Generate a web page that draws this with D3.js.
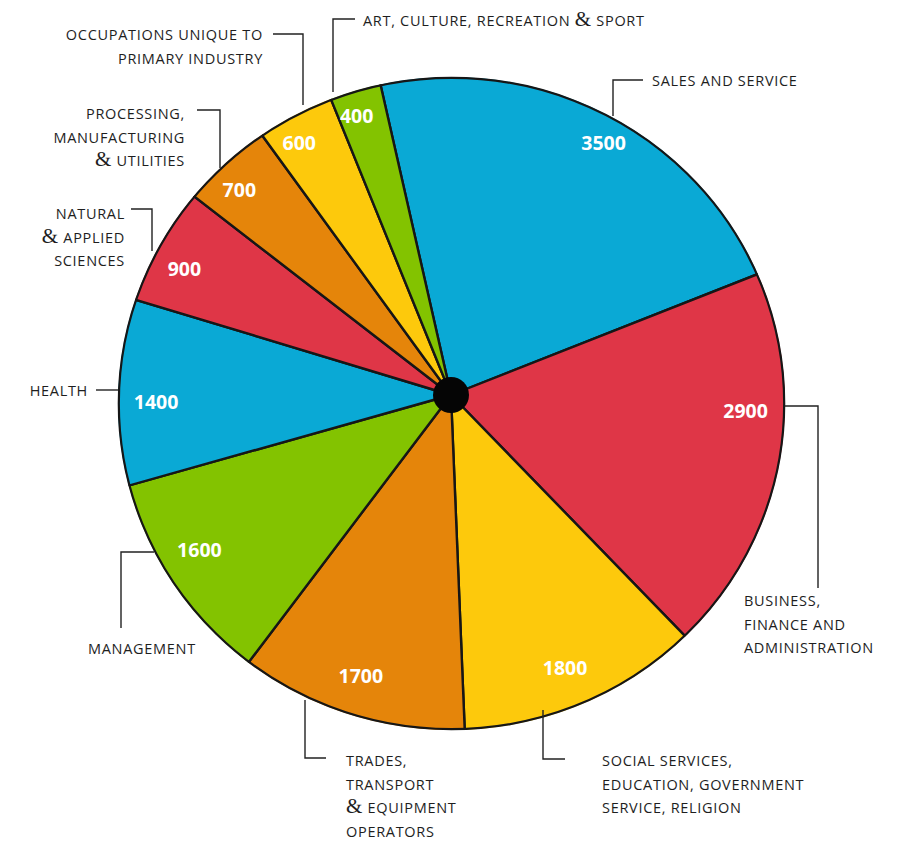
<!DOCTYPE html>
<html>
<head>
<meta charset="utf-8">
<script src="https://cdn.jsdelivr.net/npm/d3@7/dist/d3.min.js"></script>
<style>
  html, body { margin: 0; padding: 0; background: #fff; }
  svg { display: block; }
  .cat { font-family: "Open Sans", sans-serif; font-size: 14.5px; fill: #1e1e1e; letter-spacing: 0.7px; }
  .amp { font-family: "Liberation Serif", serif; font-size: 21px; }
  .val { font-family: "Open Sans", sans-serif; font-weight: 700; font-size: 19.5px; fill: #fff; }
  .leader { fill: none; stroke: #222; stroke-width: 1.4; }
</style>
</head>
<body>
<svg id="chart" width="898" height="841"></svg>
<script>
// Occupation groups, in clockwise order from the top
const categories = [
  "SALES AND SERVICE",
  "BUSINESS, FINANCE AND ADMINISTRATION",
  "SOCIAL SERVICES, EDUCATION, GOVERNMENT SERVICE, RELIGION",
  "TRADES, TRANSPORT & EQUIPMENT OPERATORS",
  "MANAGEMENT",
  "HEALTH",
  "NATURAL & APPLIED SCIENCES",
  "PROCESSING, MANUFACTURING & UTILITIES",
  "OCCUPATIONS UNIQUE TO PRIMARY INDUSTRY",
  "ART, CULTURE, RECREATION & SPORT"
];
const values = [3500, 2900, 1800, 1700, 1600, 1400, 900, 700, 600, 400];
const colors = ["#0aa9d5", "#df3647", "#fdc90c", "#e5850a", "#83c300",
                "#0aa9d5", "#df3647", "#e5850a", "#fdc90c", "#83c300"];

// Category label lines as printed beside the pie
const labelLines = [
  ["SALES AND SERVICE"],
  ["BUSINESS,", "FINANCE AND", "ADMINISTRATION"],
  ["SOCIAL SERVICES,", "EDUCATION, GOVERNMENT", "SERVICE, RELIGION"],
  ["TRADES,", "TRANSPORT", "& EQUIPMENT", "OPERATORS"],
  ["MANAGEMENT"],
  ["HEALTH"],
  ["NATURAL", "& APPLIED", "SCIENCES"],
  ["PROCESSING,", "MANUFACTURING", "& UTILITIES"],
  ["OCCUPATIONS UNIQUE TO", "PRIMARY INDUSTRY"],
  ["ART, CULTURE, RECREATION & SPORT"]
];

// Label placement: text anchor point, alignment and leader polyline
const labelLayout = [
  { x: 652, y: 86,  anchor: "start", leader: [[643, 80], [613, 80], [613, 116]] },
  { x: 744, y: 606, anchor: "start", leader: [[785, 406], [818, 406], [818, 588]] },
  { x: 602, y: 766, anchor: "start", leader: [[565, 759], [543, 759], [543, 710]] },
  { x: 346, y: 766, anchor: "start", leader: [[326, 758], [305, 758], [305, 700]] },
  { x: 88,  y: 654, anchor: "start", leader: [[121, 628], [121, 552], [154, 552]] },
  { x: 88,  y: 396, anchor: "end",   leader: [[96, 390], [118, 390]] },
  { x: 125, y: 219, anchor: "end",   leader: [[131, 209], [152, 209], [152, 251]] },
  { x: 185, y: 119, anchor: "end",   leader: [[197, 110], [220, 110], [220, 168]] },
  { x: 263, y: 40,  anchor: "end",   leader: [[273, 34], [303, 34], [303, 105]] },
  { x: 363, y: 26,  anchor: "start", leader: [[355, 19], [333, 19], [333, 92]] }
];
// angular nudge (degrees) of each value label away from its slice centroid
const valueNudge = [3.3, -9.2, 0.5, 0.4, 2.8, -1.8, -1.9, -1.7, -1.9, -1.2];

const svg = d3.select("#chart");
// slices fan out from the hub; the rim is a slightly flattened disc below it
const hub = { x: 451, y: 395 };
const rim = { x: 451.5, y: 403.5, rx: 333.5, ry: 326.5 };
const startDeg = -12.8;
const rad = Math.PI / 180;

const pie = d3.pie().sort(null).value(d => d)
  .startAngle(startDeg * rad)
  .endAngle((startDeg + 360) * rad);
const arcs = pie(values);

const wedge = d3.arc().innerRadius(0).outerRadius(420);

const defs = svg.append("defs");
defs.append("clipPath").attr("id", "rim-clip")
  .append("ellipse")
  .attr("cx", rim.x).attr("cy", rim.y).attr("rx", rim.rx).attr("ry", rim.ry);

const pieG = svg.append("g").attr("clip-path", "url(#rim-clip)");
const slices = pieG.append("g").attr("transform", `translate(${hub.x},${hub.y})`);

slices.selectAll("path.slice")
  .data(arcs)
  .join("path")
  .attr("class", "slice")
  .attr("d", wedge)
  .attr("fill", (d, i) => colors[i])
  .attr("stroke", "#161616")
  .attr("stroke-width", 2.4)
  .attr("stroke-linejoin", "round");

// outer rim
svg.append("ellipse")
  .attr("cx", rim.x).attr("cy", rim.y).attr("rx", rim.rx - 0.8).attr("ry", rim.ry - 0.8)
  .attr("fill", "none").attr("stroke", "#161616").attr("stroke-width", 2.2);

// centre hub
svg.append("circle").attr("cx", hub.x).attr("cy", hub.y).attr("r", 18).attr("fill", "#050505");

// value labels
const labelR = 295;
svg.append("g")
  .selectAll("text")
  .data(arcs)
  .join("text")
  .attr("class", "val")
  .attr("text-anchor", "middle")
  .attr("dominant-baseline", "central")
  .each(function (d, i) {
    const a = (d.startAngle + d.endAngle) / 2 + valueNudge[i] * rad;
    d3.select(this)
      .attr("x", hub.x + labelR * Math.sin(a))
      .attr("y", hub.y - labelR * Math.cos(a));
  })
  .text(d => d3.format("d")(d.data));

// category labels with leader lines
const lineGen = d3.line();
const lbl = svg.append("g");
labelLayout.forEach((L, i) => {
  lbl.append("path").attr("class", "leader").attr("d", lineGen(L.leader));
  const t = lbl.append("text").attr("class", "cat").attr("text-anchor", L.anchor);
  labelLines[i].forEach((line, k) => {
    const row = t.append("tspan").attr("x", L.x).attr("y", L.y + k * 23.5);
    line.split("&").forEach((part, j) => {
      if (j > 0) row.append("tspan").attr("class", "amp").text("&");
      if (part.length) row.append("tspan").text(part);
    });
  });
});
</script>
</body>
</html>
